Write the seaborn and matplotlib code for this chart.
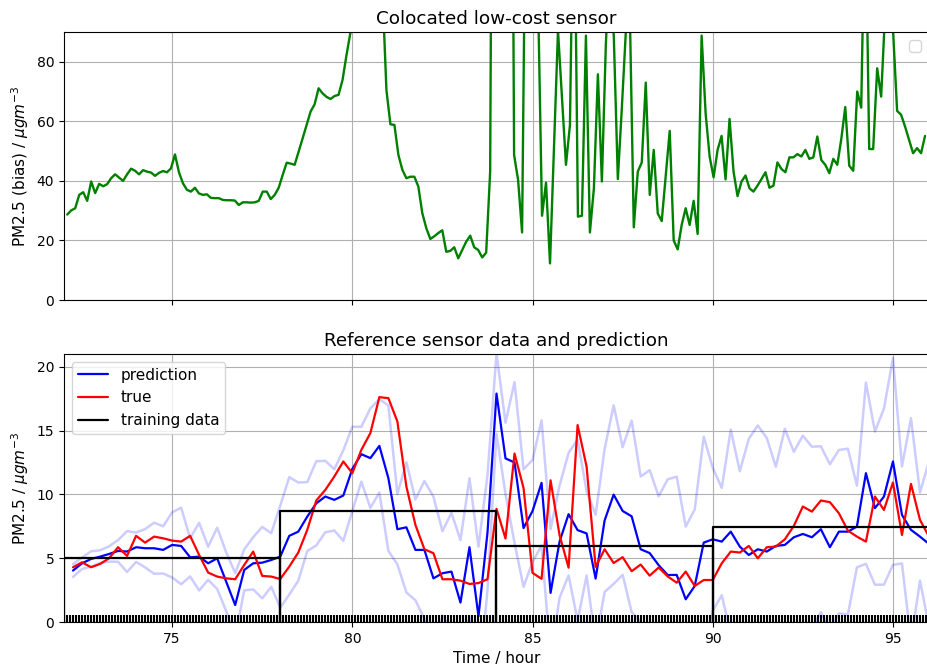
import warnings
import numpy as np
import matplotlib
matplotlib.use("Agg")
import matplotlib.pyplot as plt
import seaborn as sns

warnings.filterwarnings("ignore")

# ---------------- data ----------------
# low-cost sensor (bias), sampled every ~6.6 minutes
lowcost_start = 72.09
lowcost_step = 0.1107
lowcost_bias = [
    28.7, 30.1, 30.8, 35.3, 36.2, 33.3, 39.8, 35.9, 39.0, 38.2,
    38.9, 40.9, 42.2, 41.1, 40.0, 42.2, 44.1, 43.4, 42.2, 43.6,
    43.1, 42.8, 41.7, 42.7, 43.3, 42.9, 44.2, 48.9, 42.9, 39.2,
    37.0, 36.4, 37.7, 35.8, 35.3, 35.5, 34.3, 34.2, 34.2, 33.6,
    33.5, 33.5, 33.4, 31.9, 32.8, 32.8, 32.7, 32.8, 33.3, 36.4,
    36.4, 33.9, 35.3, 37.7, 42.0, 46.1, 45.8, 45.4, 49.8, 54.3,
    58.8, 63.3, 65.7, 71.1, 69.4, 68.2, 67.5, 68.5, 68.9, 73.9,
    82.3, 90.0, 100.0, 108.0, 115.0, 118.0, 115.0, 110.0, 106.0, 104.0,
    70.5, 59.0, 58.8, 48.7, 43.7, 40.9, 41.4, 41.4, 38.1, 29.1,
    24.1, 20.5, 21.4, 22.5, 23.4, 16.2, 16.5, 17.7, 14.0, 16.8,
    19.6, 21.6, 17.7, 16.8, 14.3, 15.9, 43.1, 320.0, 330.0, 310.0,
    300.0, 297.0, 48.7, 40.3, 22.7, 157.0, 180.0, 150.0, 102.0, 28.3,
    39.4, 12.3, 51.0, 90.5, 68.0, 45.4, 58.8, 153.0, 28.0, 28.3,
    88.8, 22.7, 37.5, 75.8, 39.8, 86.0, 115.0, 88.0, 40.6, 64.4,
    90.0, 97.0, 24.4, 43.1, 46.2, 73.0, 35.3, 50.4, 29.1, 26.5,
    41.6, 56.8, 20.0, 17.0, 25.2, 30.8, 25.2, 33.3, 22.2, 88.8,
    62.7, 48.2, 41.2, 50.4, 55.1, 40.5, 60.8, 43.1, 34.9, 39.8,
    41.8, 37.5, 36.4, 38.4, 40.6, 42.9, 37.7, 38.4, 46.2, 44.0,
    42.9, 47.9, 47.9, 49.0, 48.2, 50.4, 47.4, 47.9, 54.9, 47.0,
    45.4, 42.6, 47.4, 45.4, 54.0, 64.8, 45.1, 43.4, 70.0, 64.6,
    140.0, 50.7, 50.7, 77.8, 68.3, 97.0, 105.0, 90.0, 63.5, 62.2,
    58.2, 53.8, 49.3, 51.0, 49.3, 55.1,
]

# reference sensor / prediction, every 15 minutes from 72.25 h
pred_start = 72.25
pred_step = 0.25
prediction = [
    4.03, 4.60, 4.94, 5.12, 5.33, 5.57, 5.52, 5.86, 5.78, 5.78,
    5.65, 6.04, 5.96, 5.07, 5.12, 4.60, 4.99, 3.16, 1.33, 4.08,
    4.60, 4.65, 4.86, 5.12, 6.75, 7.08, 8.26, 9.30, 9.83, 9.57,
    9.91, 12.0, 13.15, 12.84, 13.80, 11.27, 7.27, 7.42, 5.65, 5.65,
    3.42, 3.82, 3.95, 1.52, 5.86, 0.45, 7.00, 17.9, 12.82, 12.5,
    7.36, 8.70, 10.9, 2.28, 6.30, 8.45, 7.20, 6.94, 3.40, 7.96,
    9.98, 8.70, 8.28, 5.70, 5.40, 4.45, 3.68, 3.69, 1.78, 2.82,
    6.22, 6.48, 6.30, 7.08, 5.91, 5.25, 5.70, 5.52, 5.96, 6.04,
    6.64, 6.90, 6.64, 7.27, 5.86, 7.08, 7.08, 7.48, 11.66, 8.92,
    9.83, 12.58, 8.39, 7.22, 6.69, 6.12,
]
true_values = [
    4.29, 4.68, 4.29, 4.55, 4.99, 5.86, 5.18, 6.75, 6.22, 6.69,
    6.56, 6.38, 6.30, 6.75, 5.25, 3.87, 3.56, 3.42, 3.35, 4.47,
    5.52, 3.61, 3.56, 3.37, 4.34, 5.44, 7.22, 9.52, 10.35, 11.4,
    12.58, 11.66, 13.49, 14.8, 17.62, 17.54, 15.71, 10.61, 7.61, 5.70,
    5.39, 3.35, 3.35, 3.24, 2.98, 3.05, 3.35, 8.87, 6.54, 13.2,
    10.5, 3.85, 3.38, 11.1, 6.80, 4.26, 15.43, 12.17, 4.32, 5.70,
    4.62, 5.08, 3.98, 4.50, 3.63, 4.27, 3.57, 3.08, 3.95, 2.82,
    3.29, 3.29, 4.60, 5.52, 5.44, 5.96, 4.99, 5.86, 5.91, 6.48,
    7.53, 9.05, 8.65, 9.52, 9.39, 8.52, 7.16, 6.69, 6.30, 9.83,
    8.78, 10.93, 6.82, 10.82, 8.00, 6.69,
]
# half-width of the uncertainty band around the prediction
pred_spread = [
    0.50, 0.45, 0.60, 0.50, 0.60, 0.85, 1.60, 1.15, 1.50, 2.00,
    1.85, 2.55, 3.00, 1.50, 2.65, 1.30, 2.40, 2.30, 2.50, 1.60,
    2.05, 2.80, 2.10, 4.00, 4.60, 3.85, 2.70, 3.30, 2.80, 2.40,
    3.55, 3.30, 2.15, 3.90, 3.65, 5.70, 2.75, 5.10, 3.95, 5.40,
    6.40, 3.30, 4.60, 4.90, 5.40, 5.45, 4.50, 3.15, 2.80, 6.30,
    4.60, 4.00, 4.90, 5.00, 4.40, 4.80, 7.10, 3.30, 5.00, 5.60,
    7.00, 5.00, 7.50, 5.70, 6.50, 5.40, 7.50, 7.70, 5.70, 6.00,
    8.30, 5.60, 4.20, 8.00, 5.90, 9.10, 9.70, 8.90, 6.20, 9.10,
    6.70, 7.70, 7.10, 6.50, 6.50, 6.40, 6.50, 3.20, 7.10, 6.00,
    6.90, 8.10, 3.80, 8.75, 3.45, 6.45,
]

# training windows (start, end, mean level) and 5-minute training samples
train_start = [72, 78, 84, 90]
train_end = [78, 84, 90, 96]
train_mean = [4.98, 8.71, 5.96, 7.48]
train_sample_minutes = 5

# ---------------- derived arrays ----------------
lowcost_bias = np.array(lowcost_bias)
lowcost_hours = lowcost_start + lowcost_step * np.arange(len(lowcost_bias))
prediction = np.array(prediction)
true_values = np.array(true_values)
pred_spread = np.array(pred_spread)
pred_hours = pred_start + pred_step * np.arange(len(prediction))
train_times = np.arange(72 * 60, 96 * 60 + 1, train_sample_minutes) / 60.0

# ---------------- style ----------------
sns.set_theme(style="ticks", rc={
    "axes.edgecolor": "black",
    "axes.linewidth": 0.8,
    "xtick.major.size": 3.5,
    "ytick.major.size": 3.5,
    "xtick.major.width": 0.8,
    "ytick.major.width": 0.8,
    "xtick.color": "black",
    "ytick.color": "black",
    "axes.labelcolor": "black",
    "text.color": "black",
    "grid.color": "#b0b0b0",
    "grid.linewidth": 0.8,
    "font.size": 11,
    "axes.labelsize": 11,
    "axes.titlesize": 13.2,
    "xtick.labelsize": 10,
    "ytick.labelsize": 10,
    "legend.fontsize": 11,
    "lines.linewidth": 1.5,
})
plt.rcParams["font.family"] = ["DejaVu Sans"]

fig = plt.figure(figsize=(9.28, 6.67), dpi=100)
ax1 = fig.add_axes([64 / 928, 1 - 300 / 667, 865 / 928, 268 / 667])
ax2 = fig.add_axes([64 / 928, 1 - 622 / 667, 865 / 928, 268 / 667], sharex=ax1)

# ---------------- top panel ----------------
sns.lineplot(x=lowcost_hours, y=lowcost_bias, ax=ax1, color="green",
             linewidth=1.7, estimator=None, sort=False)
ax1.set_ylim(0, 90)
ax1.set_yticks([0, 20, 40, 60, 80])
ax1.grid(True)
ax1.set_title("Colocated low-cost sensor")
ax1.set_ylabel("PM2.5 (bias) / $\\mu g m^{-3}$")
ax1.set_xlabel("")
ax1.tick_params(axis="x", labelbottom=False)
ax1.legend(loc="upper right")

# ---------------- bottom panel ----------------
band_color = (0.0, 0.0, 1.0)
sns.lineplot(x=pred_hours, y=prediction + pred_spread, ax=ax2, color=band_color,
             alpha=0.2, linewidth=1.8, estimator=None, sort=False)
sns.lineplot(x=pred_hours, y=prediction - pred_spread, ax=ax2, color=band_color,
             alpha=0.2, linewidth=1.8, estimator=None, sort=False)
sns.lineplot(x=pred_hours, y=prediction, ax=ax2, color="blue", linewidth=1.6,
             label="prediction", estimator=None, sort=False)
sns.lineplot(x=pred_hours, y=true_values, ax=ax2, color="red", linewidth=1.6,
             label="true", estimator=None, sort=False)
for i, (t0, t1, level) in enumerate(zip(train_start, train_end, train_mean)):
    sns.lineplot(x=[t0, t0, t1, t1], y=[0, level, level, 0], ax=ax2,
                 color="black", linewidth=1.6, sort=False, estimator=None,
                 label="training data" if i == 0 else None)
sns.rugplot(x=train_times, ax=ax2, color="black", height=0.025, linewidth=1.5)

ax2.set_xlim(72, 96)
ax2.set_ylim(0, 21)
ax2.set_yticks([0, 5, 10, 15, 20])
ax2.set_xticks([75, 80, 85, 90, 95])
ax2.grid(True)
ax2.set_title("Reference sensor data and prediction")
ax2.set_ylabel("PM2.5 / $\\mu g m^{-3}$")
ax2.set_xlabel("Time / hour")
ax2.legend(loc="upper left")

fig.savefig("out.png", dpi=100)
